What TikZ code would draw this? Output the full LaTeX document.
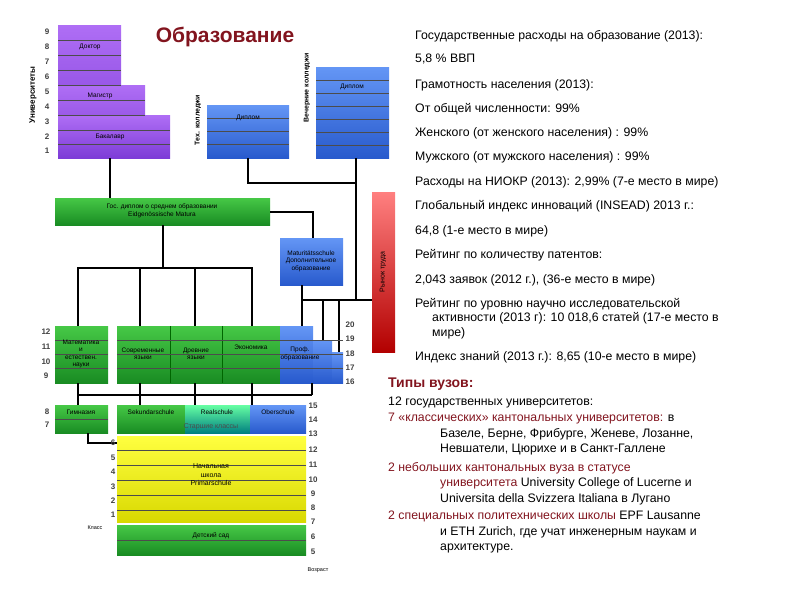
\documentclass[tikz,border=0pt]{standalone}
\usepackage{fontspec}
\setmainfont{Liberation Sans}
\definecolor{pt}{RGB}{175,110,245}\definecolor{pb}{RGB}{125,60,215}
\definecolor{gt}{RGB}{70,200,70}\definecolor{gb}{RGB}{25,140,35}
\definecolor{bt}{RGB}{100,150,245}\definecolor{bb}{RGB}{40,90,205}
\definecolor{dr}{RGB}{130,20,30}
\begin{document}
\begin{tikzpicture}[x=1pt,y=-1pt,
  lbl/.style={font=\fontsize{6.5}{7.5}\selectfont,align=center,inner sep=0pt},
  num/.style={font=\fontsize{8}{9}\selectfont\bfseries,text=black!75,inner sep=0pt},
  rt/.style={font=\fontsize{12.3}{14.5}\selectfont,anchor=north west,inner sep=0pt,align=left},
  rb/.style={font=\fontsize{12.3}{15.5}\selectfont,anchor=north west,inner sep=0pt,align=left},
  purp/.style={top color=pt,bottom color=pb,draw=none},
  grn/.style={top color=gt,bottom color=gb,draw=none},
  blu/.style={top color=bt,bottom color=bb,draw=none},
  yel/.style={top color=yellow!75,bottom color=yellow!85!black,draw=none},
  conn/.style={line width=1.6pt,black},
  rowl/.style={black!70,line width=0.6pt},
  dred/.style={text=dr}]
\useasboundingbox (0,0) rectangle (794,595);
% universities
\fill[purp] (58,25) rectangle (121,158);
\fill[purp] (58,85) rectangle (145,158);
\fill[purp] (58,115) rectangle (170,158);
\foreach \y in {40,55,70,85,100,115,130,144}{\draw[rowl] (58,\y) -- (121,\y);}
\foreach \y in {100,115}{\draw[rowl] (121,\y) -- (145,\y);}
\foreach \y in {130,144}{\draw[rowl] (121,\y) -- (170,\y);}
\node[lbl] (dok) at (90,47) {Доктор};
\node[lbl] (mag) at (100,96) {Магистр};
\node[lbl] (bak) at (110,137) {Бакалавр};
\foreach \n/\y in {9/32,8/47,7/62,6/77,5/92,4/107,3/122,2/137,1/151}{\node[num] (u\n) at (47,\y) {\n};}
\node[lbl,rotate=90,font=\fontsize{8}{9}\selectfont\bfseries] (univ) at (33,95) {Университеты};
\node[font=\fontsize{21}{24}\selectfont\bfseries,text=dr,inner sep=0pt] (title) at (225,37) {Образование};
% colleges
\fill[blu] (207,105) rectangle (289,158);
\foreach \y in {118,131,144}{\draw[rowl] (207,\y) -- (289,\y);}
\node[lbl] (tdip) at (248,118) {Диплом};
\node[lbl,rotate=90,font=\fontsize{7}{8}\selectfont\bfseries] (tech) at (198,120) {Тех. колледжи};
\fill[blu] (316,67) rectangle (389,158);
\foreach \y in {80,93,106,119,132,145}{\draw[rowl] (316,\y) -- (389,\y);}
\node[lbl] (vdip) at (352,87) {Диплом};
\node[lbl,rotate=90,font=\fontsize{7}{8}\selectfont\bfseries] (vech) at (307,88) {Вечерние колледжи};
% labour market
\fill[top color=red!50,bottom color=red!70!black] (372,192) rectangle (395,352);
\node[lbl,rotate=90,font=\fontsize{7}{8}\selectfont] (market) at (383,272) {Рынок труда};
% matura
\fill[grn] (55,198) rectangle (270,225);
\node[lbl] (mat) at (162,211) {Гос. диплом о среднем образовании\\Eidgenössische Matura};
\fill[blu] (280,238) rectangle (343,285);
\node[lbl] (mts) at (311,261) {Maturitätsschule\\Дополнительное\\образование};
% connectors top
\draw[conn] (110,158) -- (110,198);
\draw[conn] (248,158) -- (248,183) -- (356,183);
\draw[conn] (356,158) -- (356,300) -- (372,300);
\draw[conn] (270,212) -- (313,212) -- (313,238);
\draw[conn] (163,225) -- (163,268);
\draw[conn] (78,326) -- (78,268) -- (252,268) -- (252,326);
\draw[conn] (140,268) -- (140,326);
\draw[conn] (195,268) -- (195,326);
\draw[conn] (302,285) -- (302,340);
\draw[conn] (302,300) -- (356,300);
\draw[conn] (323,300) -- (323,340);
\draw[conn] (339,300) -- (339,352);
% upper secondary
\fill[grn] (55,326) rectangle (108,383);
\fill[grn] (117,326) rectangle (280,383);
\draw[black!60!green,line width=0.8pt] (170,326) -- (170,383) (222,326) -- (222,383);
\fill[blu] (280,326) rectangle (313,383);
\fill[blu] (313,340) rectangle (332,383);
\fill[blu] (332,352) rectangle (343,383);
\foreach \y in {340,354,368}{\draw[rowl] (55,\y) -- (108,\y) (117,\y) -- (343,\y);}
\node[lbl] (mnat) at (81,354) {Математика\\и\\естествен.\\науки};
\node[lbl] (sovr) at (143,354) {Современные\\языки};
\node[lbl] (drev) at (196,354) {Древние\\языки};
\node[lbl] (econ) at (251,347) {Экономика};
\node[lbl] (prof) at (300,354) {Проф.\\образование};
\foreach \n/\y in {12/332,11/347,10/362,9/376}{\node[num] (l\n) at (46,\y) {\n};}
\foreach \n/\y in {20/325,19/339,18/354,17/368,16/382}{\node[num] (r\n) at (350,\y) {\n};}
% connectors middle
\draw[conn] (78,383) -- (78,405);
\draw[conn] (140,383) -- (140,405);
\draw[conn] (195,383) -- (195,405);
\draw[conn] (252,383) -- (252,405);
\draw[conn] (312,383) -- (312,395);
\draw[conn] (78,395) -- (312,395);
% lower secondary
\fill[grn] (55,405) rectangle (108,433);
\draw[rowl] (55,419) -- (108,419);
\node[lbl] (gym) at (81,412) {Гимназия};
\fill[grn] (117,405) rectangle (185,433);
\fill[top color=cyan!40!green!60,bottom color=teal] (185,405) rectangle (250,433);
\fill[blu] (250,405) rectangle (306,433);
\node[lbl] (sek) at (151,412) {Sekundarschule};
\node[lbl] (real) at (217,412) {Realschule};
\node[lbl] (ober) at (278,412) {Oberschule};
\node[lbl,text=black!70,font=\fontsize{7}{8}\selectfont] (star) at (211,427) {Старшие классы};
\foreach \n/\y in {8/412,7/425}{\node[num] (g\n) at (47,\y) {\n};}
\foreach \n/\y in {15/406,14/420,13/434}{\node[num] (s\n) at (313,\y) {\n};}
% primary
\fill[yel] (117,436) rectangle (306,522);
\foreach \y in {450,465,480,495,510}{\draw[rowl] (117,\y) -- (306,\y);}
\node[lbl,font=\fontsize{7}{8.5}\selectfont] (prim) at (211,475) {Начальная\\школа\\Primarschule};
\coordinate (pin) at (117,443);
\draw[conn,line width=2.2pt] (88,433) -- (88,443) -- (pin);
\foreach \n/\y in {6/443,5/458,4/472,3/487,2/501,1/515}{\node[num] (p\n) at (113,\y) {\n};}
\foreach \n/\y in {12/450,11/465,10/480,9/494,8/508,7/522}{\node[num] (q\n) at (313,\y) {\n};}
\node[lbl,font=\fontsize{5.5}{6}\selectfont] (klass) at (95,528) {Класс};
\fill[grn] (117,525) rectangle (306,555);
\draw[rowl] (117,540) -- (306,540);
\node[lbl] (kind) at (211,536) {Детский сад};
\foreach \n/\y in {6/537,5/552}{\node[num] (k\n) at (313,\y) {\n};}
\node[lbl,font=\fontsize{5.5}{6}\selectfont] (vozr) at (318,570) {Возраст};
% right text
\node[rt] (t1) at (415,30) {Государственные расходы на образование (2013):};
\node[rt] (t2) at (415,54) {5,8 \% ВВП};
\node[rt] (t3) at (415,79) {Грамотность населения (2013):};
\node[rt] (t4) at (415,103) {От общей численности: 99\%};
\node[rt] (t5) at (415,127) {Женского (от женского населения) : 99\%};
\node[rt] (t6) at (415,151) {Мужского (от мужского населения) : 99\%};
\node[rt] (t7) at (415,176) {Расходы на НИОКР (2013): 2,99\% (7-е место в мире)};
\node[rt] (t8) at (415,200) {Глобальный индекс инноваций (INSEAD) 2013 г.:};
\node[rt] (t9) at (415,225) {64,8 (1-е место в мире)};
\node[rt] (t10) at (415,249) {Рейтинг по количеству патентов:};
\node[rt] (t11) at (415,274) {2,043 заявок (2012 г.), (36-е место в мире)};
\node[rt] (t12) at (415,298) {Рейтинг по уровню научно исследовательской\\\hspace*{17pt}активности (2013 г): 10 018,6 статей (17-е место в\\\hspace*{17pt}мире)};
\node[rt] (t13) at (415,351) {Индекс знаний (2013 г.): 8,65 (10-е место в мире)};
\node[rt,font=\fontsize{14}{16}\selectfont\bfseries,dred] (types) at (388,378) {Типы вузов:};
\node[rb] (b1) at (388,397) {12 государственных университетов:};
\node[rb] (b2) at (388,413) {\textcolor{dr}{7 «классических» кантональных университетов:} в\\\hspace*{52pt}Базеле, Берне, Фрибурге, Женеве, Лозанне,\\\hspace*{52pt}Невшатели, Цюрихе и в Санкт-Галлене};
\node[rb] (b3) at (388,462) {\textcolor{dr}{2 небольших кантональных вуза в статусе}\\\hspace*{52pt}\textcolor{dr}{университета} University College of Lucerne и\\\hspace*{52pt}Universita della Svizzera Italiana в Лугано};
\node[rb] (b4) at (388,511) {\textcolor{dr}{2 специальных политехнических школы} EPF Lausanne\\\hspace*{52pt}и ETH Zurich, где учат инженерным наукам и\\\hspace*{52pt}архитектуре.};
\end{tikzpicture}
\end{document}
